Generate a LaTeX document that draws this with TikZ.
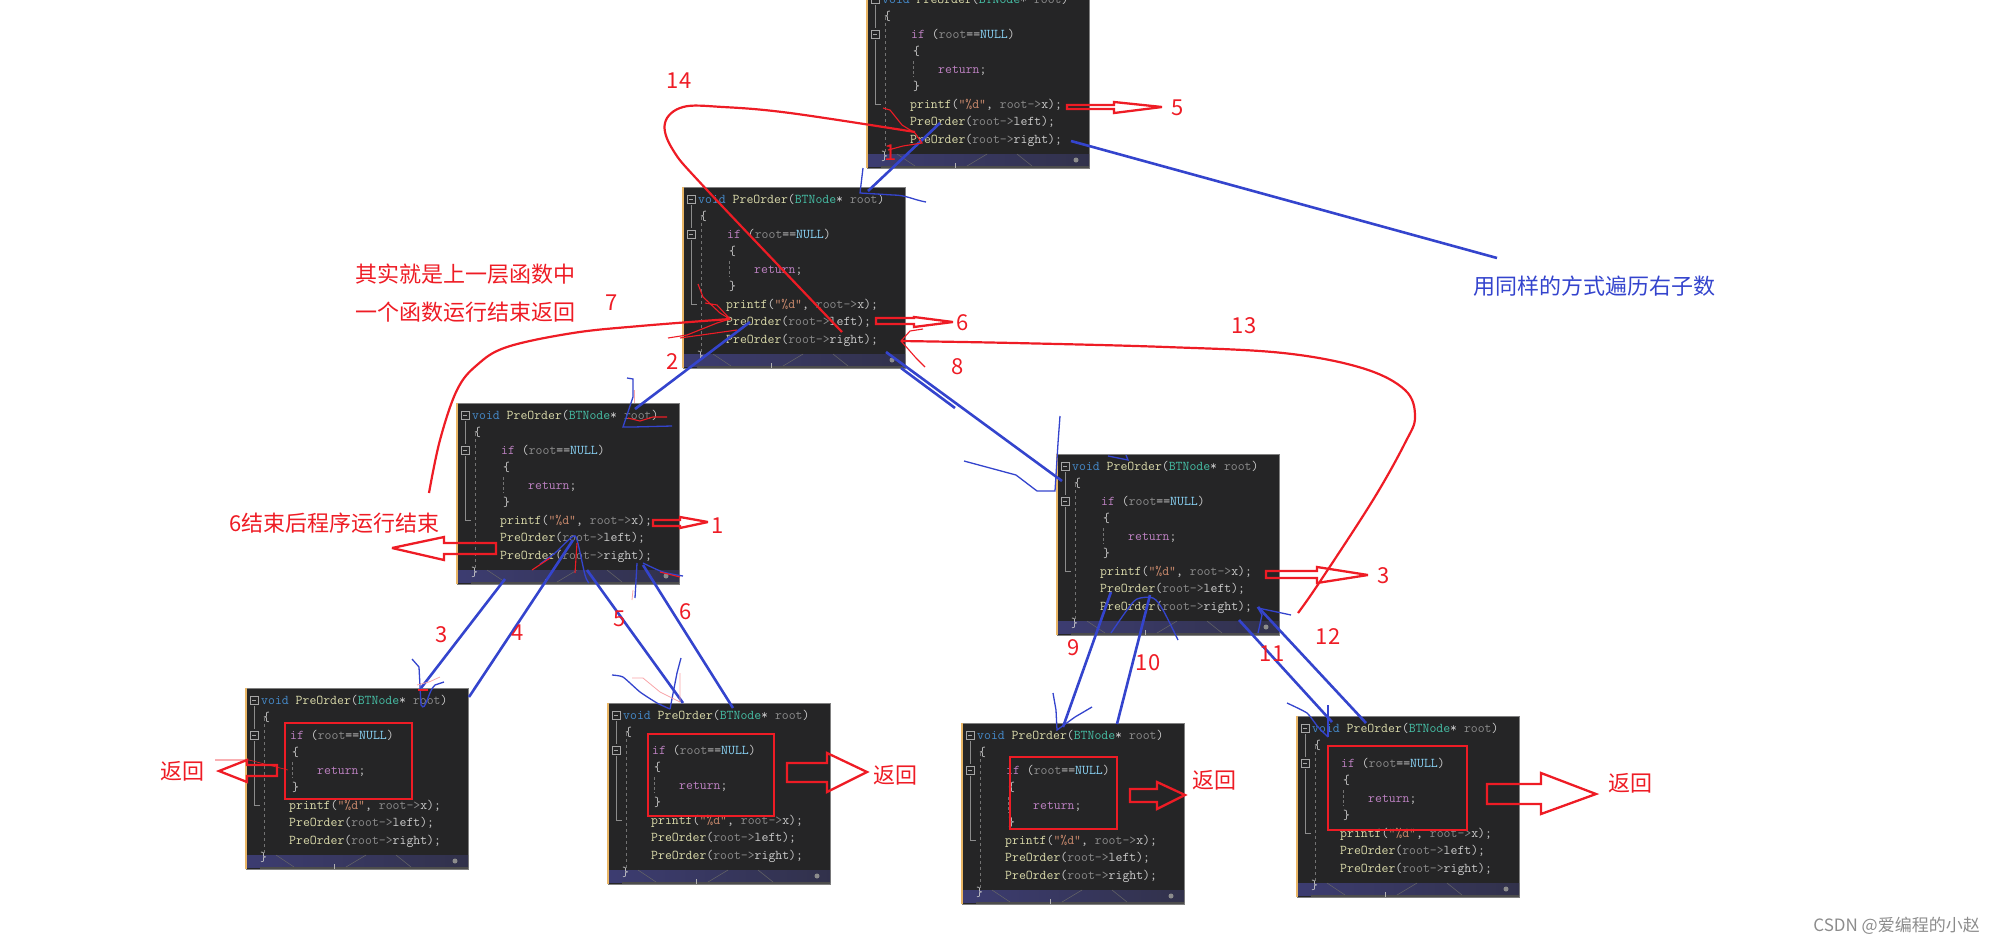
\documentclass[tikz,border=0pt]{standalone}
\usepackage{fontspec}
\setmainfont{Noto Sans CJK SC}
\setmonofont{Latin Modern Mono}
\definecolor{figR}{RGB}{238,28,37}
\definecolor{figB}{RGB}{52,68,205}
\definecolor{codeBg}{RGB}{37,37,38}
\definecolor{codeB}{RGB}{70,140,205}
\definecolor{codeY}{RGB}{218,218,170}
\definecolor{codeT}{RGB}{70,190,165}
\definecolor{codeG}{RGB}{140,140,140}
\definecolor{codeW}{RGB}{205,205,205}
\definecolor{codeP}{RGB}{190,130,195}
\definecolor{codeN}{RGB}{140,215,250}
\definecolor{codeO}{RGB}{205,140,110}
\newcommand{\cB}[1]{\textcolor{codeB}{#1}}
\newcommand{\cY}[1]{\textcolor{codeY}{#1}}
\newcommand{\cT}[1]{\textcolor{codeT}{#1}}
\newcommand{\cG}[1]{\textcolor{codeG}{#1}}
\newcommand{\cP}[1]{\textcolor{codeP}{#1}}
\newcommand{\cN}[1]{\textcolor{codeN}{#1}}
\newcommand{\cO}[1]{\textcolor{codeO}{#1}}
\tikzset{
  codebg/.style={rectangle,fill=codeBg,draw=black!50,line width=0.6pt,inner sep=0pt,minimum width=222pt,minimum height=181pt,anchor=north west},
  codeline/.style={anchor=base west,inner sep=0pt,text=codeW,font=\fontsize{13.4}{16}\selectfont\ttfamily},
  foldbox/.style={draw=black!35,line width=0.8pt},
  guide/.style={draw=black!45,line width=0.9pt},
  redlab/.style={text=figR,inner sep=0pt,font=\fontsize{22}{26}\selectfont},
  bluelink/.style={draw=figB,line width=2.6pt},
  bluehand/.style={draw=figB,line width=1.3pt},
  redcurve/.style={draw=figR,line width=2.2pt},
  redhand/.style={draw=figR,line width=1.1pt},
  pinkhand/.style={draw=figR!40,line width=0.8pt},
  hollowarr/.style={draw=figR,line width=2.3pt,miter limit=4},
  redframe/.style={draw=figR,line width=2.6pt}
}
\newcommand{\codebox}[3]{%
  \node[codebg] (#1) at (#2,#3) {};
  \begin{scope}[shift={(#2,#3)}]
    \shade[left color=black!20!blue!30!codeBg!85,right color=black!30!blue!15!codeBg!92] (0,167) rectangle (222,179);
    \fill[black!70] (14,178.5) rectangle (222,181);
    \draw[black!60,line width=0.5pt] (30,167)--(48,179) (120,167)--(100,179) (150,167)--(165,179);
    \fill[black!45] (209,173) circle (2.5pt);
    \draw[white!70!black,line width=0.6pt] (88,176)--(88,181);
    \draw[codeY!60!orange,line width=1.5pt] (0,0)--(0,181);
    \foreach \y in {12,47} {
      \draw[foldbox] (4,\y-4) rectangle (12,\y+4);
      \draw[foldbox] (6,\y)--(10,\y);
    }
    \draw[guide] (8,18)--(8,41) (8,53)--(8,117)--(14,117);
    \draw[black!55,line width=0.9pt,dash pattern=on 3pt off 3pt] (18,30)--(18,166);
    \draw[black!55,line width=0.9pt,dash pattern=on 3pt off 2pt] (46,74)--(46,90);
    \node[codeline] (#1a) at (15,16.5) {\cB{void} \cY{PreOrder}(\cT{BTNode}* \cG{root})};
    \node[codeline] (#1b) at (17,33.5) {\{};
    \node[codeline] (#1c) at (44,51.5) {\cP{if} (\cG{root}==\cN{NULL})};
    \node[codeline] (#1d) at (46,68.5) {\{};
    \node[codeline] (#1e) at (71,86.5) {\cP{return};};
    \node[codeline] (#1f) at (46,103.5) {\}};
    \node[codeline] (#1g) at (43,121.5) {\cY{printf}(\cO{"\%d"}, \cG{root->}x);};
    \node[codeline] (#1h) at (43,138.5) {\cY{PreOrder}(\cG{root->}left);};
    \node[codeline] (#1i) at (43,156.5) {\cY{PreOrder}(\cG{root->}right);};
    \node[codeline] (#1j) at (14,173.5) {\}};
  \end{scope}
}

\begin{document}
\begin{tikzpicture}[x=1pt,y=-1pt]
\useasboundingbox (0,0) rectangle (1990,946);
\clip (0,0) rectangle (1990,946);
\codebox{boxTop}{867}{-13}
\codebox{boxMid}{683}{187}
\codebox{boxLeft}{457}{403}
\codebox{boxRight}{1057}{454}
\codebox{boxLL}{246}{688}
\codebox{boxLR}{608}{703}
\codebox{boxRL}{962}{723}
\codebox{boxRR}{1297}{716}
\foreach \nm/\ax/\ay/\bx/\by in {lkA/940/123/868/191,lkB/1071/141/1497/258,lkC/750/322/635/409,lkD/886/352/1062/481,lkE/505/579/421/688,lkF/573/540/469/697,lkG/587/570/683/703,lkH/643/565/733/708,lkI/1111/592/1063/727,lkJ/1150/595/1117/724,lkK/1239/620/1332/722,lkL/1258/607/1366/723,lkM/901/368/955/408} {
  \coordinate (\nm a) at (\ax,\ay);
  \coordinate (\nm b) at (\bx,\by);
  \draw[bluelink] (\nm a)--(\nm b);
}
\draw[bluehand] (863,168)--(860,193)--(893,195) to[out=0,in=170] (926,202);
\draw[bluehand] (627,378)--(633,379)--(633,397)--(623,427)--(633,427)--(672,426);
\draw[bluehand] (1060,416)--(1058,443)--(1055,491)--(1037,491)--(1016,475)--(964,461);
\draw[bluehand] (1108,456)--(1128,460)--(1126,455);
\draw[bluehand] plot[smooth,tension=.5] coordinates {(540,564) (555,553) (572,537) (577,540) (585,575) (589,583)};
\draw[bluehand] (637,563)--(635,598);
\draw[bluehand] plot[smooth,tension=.5] coordinates {(643,563) (663,572) (683,576)};
\draw[bluehand] plot[smooth,tension=.3] coordinates {(612,675) (623,677) (640,692) (657,703) (670,709)};
\draw[bluehand] (670,709)--(677,673)--(681,658);
\draw[bluehand] (412,659)--(419,667)--(421,705) to[out=-60,in=-140] (435,685)--(444,682);
\draw[bluehand] plot[smooth,tension=.5] coordinates {(1111,633) (1127,610) (1137,599) (1153,598) (1163,610) (1178,640)};
\draw[bluehand] (1258,633)--(1262,615)--(1258,608)--(1277,612)--(1291,615);
\draw[bluehand] (1053,693)--(1056,710)--(1057,730)--(1075,717)--(1092,707);
\draw[bluehand] plot[smooth,tension=.3] coordinates {(1287,703) (1307,713) (1318,727) (1328,737)};
\draw[bluehand] (1328,737)--(1328,705);
\draw[redcurve] plot[smooth,tension=.6] coordinates {(915,132) (790,113) (723,107) (683,107) (665,123) (673,150) (707,190) (842,332)};
\draw[redcurve] plot[smooth,tension=.6] coordinates {(429,493) (440,440) (457,390) (477,365) (507,347) (573,333) (640,326) (730,319)};
\draw[redcurve] plot[smooth,tension=.6] coordinates {(901,341) (1014,343) (1166,347) (1283,353) (1362,368) (1405,390) (1415,417) (1405,443) (1373,500) (1319,583) (1298,613)};
\draw[redhand] (883,108)--(890,110)--(902,125)--(915,133)--(922,143)--(903,146)--(888,150);
\draw[redhand] (698,284)--(703,297)--(720,313)--(730,319)--(717,323)--(687,335)--(668,338);
\draw[redhand] (705,303)--(717,305)--(730,319);
\draw[redhand] (680,338)--(737,330);
\draw[redhand] (923,329)--(910,331)--(901,341)--(909,350)--(916,358)--(925,367);
\draw[redhand] (628,418)--(640,421)--(653,417)--(667,417);
\draw[redhand] (532,570)--(550,558);
\draw[redhand] (577,543)--(575,573);
\draw[redhand] (660,572)--(680,577);
\draw[redhand] (418,690)--(428,690);
\draw[pinkhand] (634,390)--(634,403);
\draw[pinkhand] (632,600)--(633,590);
\draw[pinkhand] (632,678)--(643,678)--(660,692)--(680,702)--(680,673);
\draw[pinkhand] (417,685)--(429,682)--(440,677);
\draw[figR,line width=0.6pt] (215,760)--(249,760)--(288,770);
\foreach \tx/\sa/\sb/\bx/\ha/\hb/\px/\py in {1067/105/109/1114/102/113/1162/107,876/318/324/914/317/327/953/322,653/520/526/680/517/528/708/522,496/543/554/444/537/560/392/548,1266/571/578/1317/567/583/1368/575,277/765/776/247/760/782/219/771,787/763/782/827/753/792/867/772,1130/789/802/1157/782/809/1185/795,1487/784/804/1541/773/814/1596/794}
  \draw[hollowarr] (\tx,\sa)--(\bx,\sa)--(\bx,\ha)--(\px,\py)--(\bx,\hb)--(\bx,\sb)--(\tx,\sb)--cycle;
\foreach \xa/\ya/\xb/\yb in {285/723/412/799,648/734/774/816,1010/757/1117/829,1328/746/1467/830}
  \draw[redframe] (\xa,\ya) rectangle (\xb,\yb);
\foreach \nm/\txt/\x/\y in {nA/14/679/81,nB/1/891/153,nC/5/1178/108,nD/2/673/362,nE/6/963/323,nF/8/958/367,nG/7/612/303,nH/13/1244/326,nI/1/718/526,nJ/3/1384/576,nK/3/442/635,nL/4/518/633,nM/5/620/619,nN/6/686/612,nO/9/1074/648,nP/10/1148/663,nQ/11/1272/654,nR/12/1328/637}
  \node[redlab] (\nm) at (\x,\y) {\txt};
\node[redlab,anchor=west] (noteA) at (355,274) {其实就是上一层函数中};
\node[redlab,anchor=west] (noteB) at (355,312) {一个函数运行结束返回};
\node[redlab,anchor=east] (noteC) at (440,523) {6结束后程序运行结束};
\foreach \nm/\x/\y in {backA/182/771,backB/895/775,backC/1214/780,backD/1630/783}
  \node[redlab] (\nm) at (\x,\y) {返回};
\node[redlab,text=figB,anchor=west] (noteD) at (1473,286) {用同样的方式遍历右子数};
\node[text=black!45,inner sep=0pt,anchor=east,font=\fontsize{17}{20}\selectfont] (mark) at (1980,926) {CSDN @爱编程的小赵};
\end{tikzpicture}
\end{document}
